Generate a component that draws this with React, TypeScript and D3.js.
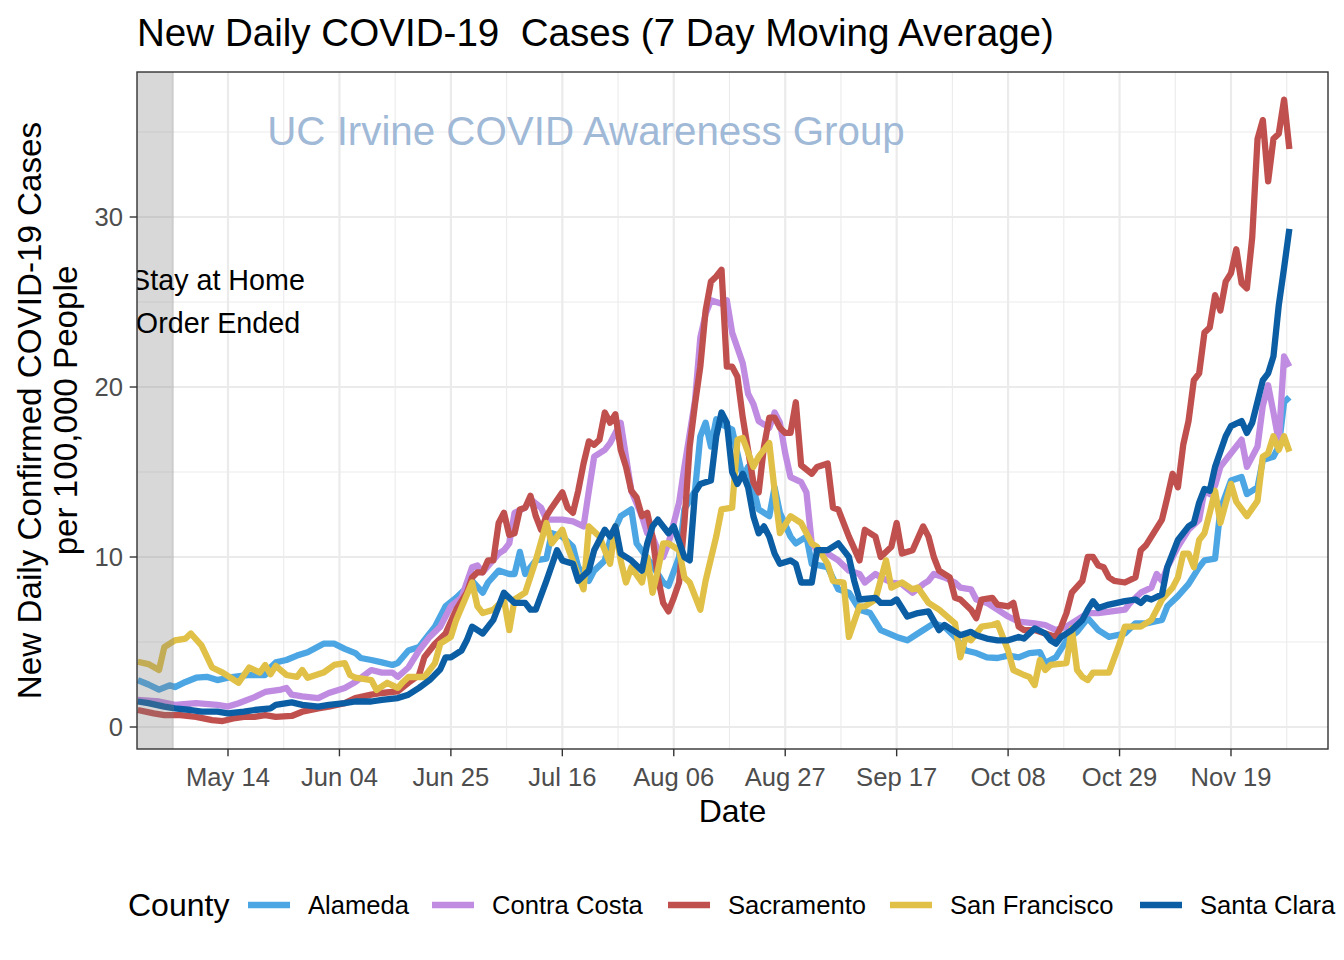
import React from "react";
import * as d3 from "d3";

// ---------- DATA ----------
const START_DATE = Date.UTC(2020, 3, 27); // day 0 = 2020-04-27
const COUNTIES = ["Alameda", "Contra Costa", "Sacramento", "San Francisco", "Santa Clara"];
const COUNTY_COLORS = ["#4ba6e3", "#c08ce2", "#c0504e", "#e0c046", "#0b5ea3"];

// [days since START_DATE, new daily cases per 100k (7-day avg)]
const ALAMEDA: [number, number][] = [[0,2.76],[2,2.5],[4,2.2],[6,2.45],[7,2.35],[9,2.65],[11,2.9],[13,2.95],[15,2.76],[17,2.9],[21,3.06],[24,3.06],[25,3.5],[26,3.8],[28,3.94],[30,4.2],[32,4.4],[35,4.9],[37,4.9],[39,4.6],[41,4.35],[42,4.06],[44,3.94],[46,3.8],[48,3.65],[49,3.76],[51,4.5],[53,4.7],[54,5.1],[56,5.9],[58,7.1],[60,7.6],[62,8.2],[63,8.6],[65,7.9],[66,8.5],[68,9.2],[70,9.0],[71,9.0],[72,10.3],[73,9.0],[75,9.8],[77,9.9],[78,11.4],[80,11.2],[82,10.6],[83,9.4],[85,8.6],[86,9.2],[88,9.8],[89,11.0],[91,12.4],[93,12.8],[94,10.8],[97,9.5],[99,8.5],[100,8.3],[102,10.0],[103,12.8],[105,13.9],[106,17.1],[107,17.9],[108,16.5],[109,18.1],[110,17.8],[112,17.5],[114,14.7],[115,15.3],[117,12.8],[119,12.4],[120,14.1],[121,12.6],[123,11.2],[124,10.8],[126,11.2],[127,9.6],[130,9.4],[132,8.1],[134,7.9],[136,6.9],[138,6.7],[140,5.7],[143,5.3],[145,5.1],[147,5.5],[150,6.1],[152,5.9],[154,5.3],[156,4.5],[158,4.35],[160,4.1],[162,4.06],[164,4.2],[166,4.1],[168,4.35],[170,4.4],[171,3.76],[173,4.1],[175,5.1],[177,5.6],[179,6.4],[181,5.7],[183,5.3],[186,5.5],[188,6.1],[190,6.1],[193,6.3],[194,7.1],[196,7.7],[198,8.4],[200,9.4],[201,9.8],[203,9.9],[204,12.8],[206,14.5],[208,14.7],[209,13.7],[211,14.1],[212,15.7],[214,15.9],[215,16.5],[216,19.1],[217,19.4]];

const CONTRA_COSTA: [number, number][] = [[0,1.6],[4,1.5],[7,1.3],[11,1.4],[15,1.3],[17,1.2],[19,1.4],[22,1.76],[24,2.06],[27,2.2],[28,2.3],[29,1.9],[31,1.8],[34,1.7],[36,2.0],[39,2.3],[41,2.65],[44,3.35],[46,3.2],[48,3.2],[49,2.95],[51,3.5],[53,4.5],[55,5.3],[57,5.9],[59,7.1],[61,7.6],[63,9.4],[64,9.5],[65,9.1],[68,10.2],[69,10.4],[70,10.8],[71,12.6],[73,12.9],[74,13.4],[76,12.9],[77,12.2],[80,12.2],[82,12.1],[84,11.8],[85,13.9],[86,15.9],[88,16.3],[89,16.7],[91,17.9],[92,15.9],[93,13.9],[95,12.4],[96,11.4],[97,11.2],[98,10.4],[99,10.0],[100,10.8],[102,13.2],[103,15.3],[105,19.2],[106,22.9],[107,24.3],[108,25.1],[110,24.9],[111,25.1],[112,23.2],[114,21.4],[115,19.6],[116,19.0],[117,18.0],[119,17.6],[120,18.5],[121,17.9],[122,16.1],[123,14.7],[125,14.4],[126,13.8],[127,10.8],[128,10.4],[130,10.2],[132,9.8],[134,9.2],[136,9.0],[137,8.5],[139,9.0],[140,8.8],[142,8.5],[144,8.4],[146,7.9],[148,8.4],[149,8.6],[150,9.0],[152,8.8],[154,8.5],[155,8.2],[157,8.1],[158,7.5],[160,7.3],[162,6.9],[164,6.5],[166,6.2],[169,6.1],[171,6.0],[173,5.7],[175,5.9],[177,6.3],[179,6.7],[181,6.7],[186,6.9],[187,7.3],[189,7.9],[191,8.2],[192,9.0],[193,8.6],[194,9.4],[196,10.6],[198,11.6],[200,12.2],[201,13.9],[202,13.7],[203,14.2],[204,15.3],[206,16.1],[208,16.9],[209,15.3],[211,16.5],[212,18.9],[213,20.1],[214,18.5],[215,16.8],[216,21.8],[217,21.2]];

const SACRAMENTO: [number, number][] = [[0,1.0],[3,0.8],[5,0.7],[8,0.7],[11,0.6],[14,0.4],[16,0.35],[18,0.5],[20,0.6],[22,0.6],[24,0.7],[26,0.6],[29,0.65],[31,0.9],[34,1.1],[36,1.2],[39,1.4],[41,1.7],[44,1.9],[46,2.0],[49,2.1],[51,2.6],[53,3.06],[54,4.1],[56,4.9],[58,5.5],[60,6.9],[62,7.9],[63,8.8],[64,9.1],[65,9.1],[66,9.8],[67,9.8],[68,12.0],[69,12.6],[70,11.3],[71,11.4],[72,12.8],[73,12.9],[74,13.6],[75,12.4],[76,11.6],[77,12.4],[78,12.9],[80,13.8],[81,12.9],[82,12.6],[83,13.9],[84,15.5],[85,16.8],[86,16.6],[87,16.9],[88,18.5],[89,17.9],[90,18.4],[91,16.3],[92,15.3],[93,13.9],[94,13.5],[95,12.4],[96,12.6],[97,11.2],[98,8.8],[99,7.3],[100,6.8],[101,7.6],[102,8.5],[103,12.0],[104,16.5],[105,19.0],[106,21.2],[107,24.5],[108,26.2],[109,26.5],[110,26.9],[111,21.2],[112,21.2],[113,20.6],[114,18.2],[115,16.3],[116,14.4],[117,13.8],[118,16.5],[119,18.2],[120,18.2],[121,17.6],[122,17.3],[123,17.3],[124,19.1],[125,15.4],[127,14.9],[128,15.3],[130,15.5],[131,12.9],[132,12.8],[134,11.2],[136,9.8],[137,11.6],[139,11.2],[140,10.0],[142,10.6],[143,12.0],[144,10.2],[146,10.4],[148,11.8],[149,11.2],[150,10.0],[151,9.2],[153,8.8],[154,7.6],[155,7.5],[157,6.9],[158,6.4],[159,7.5],[161,7.6],[162,7.2],[164,7.1],[165,7.3],[166,5.9],[167,5.7],[169,5.7],[171,5.5],[173,5.3],[174,5.9],[175,6.7],[176,7.9],[178,8.6],[179,10.0],[180,10.0],[181,9.5],[182,9.4],[183,8.8],[184,8.6],[186,8.5],[188,8.8],[189,10.4],[190,10.7],[191,11.2],[193,12.2],[194,13.5],[195,14.9],[196,14.1],[197,16.6],[198,18.0],[199,20.4],[200,20.8],[201,23.2],[202,23.5],[203,25.4],[204,24.5],[205,26.2],[206,26.7],[207,28.1],[208,26.1],[209,25.8],[210,28.8],[211,34.6],[212,35.7],[213,32.1],[214,34.6],[215,34.9],[216,36.9],[217,34.0]];

const SAN_FRANCISCO: [number, number][] = [[0,3.84],[2,3.7],[4,3.35],[5,4.7],[7,5.1],[9,5.2],[10,5.5],[12,4.8],[14,3.5],[16,3.2],[19,2.6],[21,3.5],[23,3.2],[24,3.65],[25,3.1],[26,3.6],[28,3.06],[30,2.95],[31,3.35],[32,2.9],[35,3.2],[37,3.65],[39,3.76],[40,3.06],[41,2.9],[44,2.76],[45,2.18],[47,2.6],[49,2.3],[50,2.65],[51,2.94],[54,2.94],[56,3.76],[57,4.9],[59,5.3],[60,6.3],[63,8.5],[64,7.1],[65,6.7],[67,6.9],[69,7.5],[70,5.7],[71,7.5],[73,7.9],[75,9.8],[77,12.0],[78,10.8],[80,11.6],[81,10.6],[84,8.1],[85,11.8],[87,11.2],[89,9.6],[90,11.8],[91,9.8],[92,8.5],[93,9.4],[95,8.5],[96,10.0],[97,7.9],[98,9.2],[99,10.8],[100,10.8],[102,10.4],[103,8.8],[104,8.5],[106,6.9],[107,8.6],[109,11.2],[110,12.8],[112,12.9],[113,16.9],[114,17.0],[116,15.3],[117,15.9],[119,16.7],[120,13.9],[121,11.4],[123,12.4],[125,12.0],[127,10.8],[128,10.6],[130,9.6],[131,8.6],[133,8.5],[134,5.3],[136,7.1],[137,7.1],[139,7.5],[141,9.8],[142,8.2],[144,8.5],[146,8.1],[147,8.2],[149,7.3],[151,6.9],[154,6.1],[155,4.1],[156,5.3],[157,5.1],[159,5.9],[161,6.0],[162,6.1],[164,4.5],[165,3.35],[167,3.06],[168,2.95],[169,2.47],[170,3.94],[171,3.35],[172,3.65],[175,3.76],[176,5.8],[177,3.35],[178,2.95],[179,2.76],[180,3.2],[183,3.2],[185,4.9],[186,5.9],[189,5.9],[191,6.3],[193,7.5],[195,8.2],[196,8.8],[197,10.2],[198,10.2],[199,9.4],[200,11.0],[201,11.4],[202,12.6],[203,13.9],[204,12.0],[206,14.3],[207,13.25],[209,12.4],[211,13.3],[212,15.9],[213,16.1],[214,17.1],[215,16.3],[216,17.1],[217,16.2]];

const SANTA_CLARA: [number, number][] = [[0,1.5],[2,1.4],[5,1.2],[7,1.1],[10,1.0],[12,0.9],[15,0.9],[17,0.8],[20,0.9],[22,1.0],[25,1.1],[26,1.3],[29,1.45],[31,1.3],[34,1.2],[36,1.3],[39,1.4],[41,1.5],[44,1.5],[46,1.6],[49,1.7],[51,1.9],[53,2.3],[55,2.76],[57,3.4],[58,4.1],[59,4.1],[61,4.5],[62,5.1],[63,5.9],[65,5.5],[67,6.3],[69,7.9],[71,7.3],[73,7.3],[74,6.9],[75,6.9],[77,8.6],[79,10.4],[80,9.8],[82,9.6],[83,8.6],[85,9.2],[86,10.4],[87,11.0],[88,11.6],[89,11.2],[90,11.8],[91,10.2],[93,9.8],[95,9.2],[96,10.8],[97,11.8],[98,12.2],[100,11.4],[101,11.8],[103,10.0],[104,9.8],[105,13.8],[106,14.3],[108,14.5],[109,17.1],[110,18.5],[111,17.9],[112,15.0],[113,14.3],[114,14.9],[115,14.1],[116,12.4],[117,11.4],[118,11.8],[119,11.2],[120,10.2],[121,9.6],[123,9.8],[124,9.6],[125,8.5],[127,8.5],[128,10.4],[130,10.4],[132,10.8],[134,10.0],[135,8.6],[136,7.5],[139,7.6],[140,7.3],[142,7.3],[143,7.5],[145,6.5],[147,6.7],[149,6.8],[151,5.7],[152,6.0],[154,5.6],[155,5.4],[157,5.6],[158,5.4],[160,5.2],[162,5.1],[164,5.1],[166,5.3],[167,5.2],[168,5.5],[169,5.8],[171,5.5],[172,5.1],[173,4.9],[174,5.3],[176,5.7],[178,6.3],[179,6.9],[180,7.4],[181,7.0],[183,7.2],[186,7.4],[188,7.5],[189,7.3],[190,7.6],[191,7.5],[193,7.8],[194,9.4],[196,11.0],[198,11.8],[199,12.0],[200,13.2],[201,14.0],[202,13.9],[203,15.3],[205,17.1],[206,17.7],[208,18.0],[209,17.3],[210,17.9],[212,20.4],[213,20.8],[214,21.8],[215,24.8],[216,27.0],[217,29.3]];

const SERIES = [ALAMEDA, CONTRA_COSTA, SACRAMENTO, SAN_FRANCISCO, SANTA_CLARA];

const X_TICK_DATES = ["2020-05-14", "2020-06-04", "2020-06-25", "2020-07-16", "2020-08-06", "2020-08-27", "2020-09-17", "2020-10-08", "2020-10-29", "2020-11-19"];
const X_TICK_LABELS = ["May 14", "Jun 04", "Jun 25", "Jul 16", "Aug 06", "Aug 27", "Sep 17", "Oct 08", "Oct 29", "Nov 19"];
const Y_TICKS = [0, 10, 20, 30];
const Y_MINOR = [5, 15, 25, 35];
const STAY_HOME_END_DAY = 6.8; // days after START_DATE

const TITLE = "New Daily COVID-19  Cases (7 Day Moving Average)";
const WATERMARK = "UC Irvine COVID Awareness Group";
const NOTE_LINES = ["Stay at Home", "Order Ended"];

// ---------- LAYOUT ----------
const W = 1344, H = 960;
const PL = 137, PR = 1328, PT = 72, PB = 749;
const FONT = "'Liberation Sans', Arial, Helvetica, sans-serif";
const DAY = 864e5;
const dayToDate = (d: number) => new Date(START_DATE + d * DAY);
const parseUtc = d3.utcParse("%Y-%m-%d");
const LW = 6.3;

export default function App() {
  const x = d3.scaleUtc()
    .domain([dayToDate(-0.147), dayToDate(224.28)])
    .range([PL, PR]);
  const y = d3.scaleLinear().domain([-1.294, 38.53]).range([PB, PT]);

  const majorX = X_TICK_DATES.map((s) => parseUtc(s) as Date);
  const half = (majorX[1].getTime() - majorX[0].getTime()) / 2;
  const minorX: Date[] = [new Date(majorX[0].getTime() - half)];
  majorX.forEach((d) => minorX.push(new Date(d.getTime() + half)));

  const line = d3.line<[number, number]>()
    .x((d) => x(dayToDate(d[0])))
    .y((d) => y(d[1]));

  const legendKeys = [248, 432, 668, 890, 1140];

  return (
    <svg width={W} height={H} style={{ position: "absolute", left: 0, top: 0, background: "#fff" }} fontFamily={FONT}>
      <defs>
        <clipPath id="panel">
          <rect x={PL} y={PT} width={PR - PL} height={PB - PT} />
        </clipPath>
      </defs>
      <rect x={0} y={0} width={W} height={H} fill="#fff" />
      {/* grid */}
      <g clipPath="url(#panel)">
        {Y_MINOR.map((v) => (
          <line key={"ym" + v} x1={PL} x2={PR} y1={y(v)} y2={y(v)} stroke="#ebebeb" strokeWidth={1.1} />
        ))}
        {minorX.map((d, i) => (
          <line key={"xm" + i} x1={x(d)} x2={x(d)} y1={PT} y2={PB} stroke="#ebebeb" strokeWidth={1.1} />
        ))}
        {Y_TICKS.map((v) => (
          <line key={"y" + v} x1={PL} x2={PR} y1={y(v)} y2={y(v)} stroke="#ebebeb" strokeWidth={2.2} />
        ))}
        {majorX.map((d, i) => (
          <line key={"x" + i} x1={x(d)} x2={x(d)} y1={PT} y2={PB} stroke="#ebebeb" strokeWidth={2.2} />
        ))}
        {/* series */}
        {SERIES.map((s, i) => (
          <path key={COUNTIES[i]} d={line(s) || ""} fill="none" stroke={COUNTY_COLORS[i]} strokeWidth={LW} strokeLinejoin="round" />
        ))}
        {/* shaded stay-at-home period */}
        <rect x={PL} y={PT} width={x(dayToDate(STAY_HOME_END_DAY)) - PL} height={PB - PT} fill="#7f7f7f" opacity={0.3} />
        {/* annotation */}
        {NOTE_LINES.map((t, i) => (
          <text key={t} x={218} y={290 + i * 43} fontSize={28.7} textAnchor="middle" fill="#000">{t}</text>
        ))}
      </g>
      <text x={586} y={145} fontSize={40.3} textAnchor="middle" fill="#9fb9d7">{WATERMARK}</text>
      {/* panel border */}
      <rect x={PL} y={PT} width={PR - PL} height={PB - PT} fill="none" stroke="#333333" strokeWidth={1.4} />
      {/* y axis */}
      {Y_TICKS.map((v) => (
        <g key={"yt" + v}>
          <line x1={PL - 7.3} x2={PL} y1={y(v)} y2={y(v)} stroke="#333333" strokeWidth={1.4} />
          <text x={PL - 14} y={y(v) + 9} fontSize={25.6} textAnchor="end" fill="#4d4d4d">{v}</text>
        </g>
      ))}
      {/* x axis */}
      {majorX.map((d, i) => (
        <g key={"xt" + i}>
          <line x1={x(d)} x2={x(d)} y1={PB} y2={PB + 7.3} stroke="#333333" strokeWidth={1.4} />
          <text x={x(d)} y={786} fontSize={25.6} textAnchor="middle" fill="#4d4d4d">{X_TICK_LABELS[i]}</text>
        </g>
      ))}
      {/* axis titles */}
      <text x={(PL + PR) / 2} y={822} fontSize={32} textAnchor="middle" fill="#000">Date</text>
      <g transform={`translate(41, ${(PT + PB) / 2}) rotate(-90)`}>
        <text x={0} y={0} fontSize={33.2} textAnchor="middle" fill="#000">New Daily Confirmed COVID-19 Cases</text>
        <text x={0} y={36} fontSize={33.2} textAnchor="middle" fill="#000">per 100,000 People</text>
      </g>
      {/* title */}
      <text x={PL} y={46} fontSize={38.6} fill="#000" style={{ whiteSpace: "pre" }}>{TITLE}</text>
      {/* legend */}
      <text x={128} y={916} fontSize={32} fill="#000">County</text>
      {COUNTIES.map((c, i) => (
        <g key={"lg" + c}>
          <line x1={legendKeys[i]} x2={legendKeys[i] + 42} y1={905} y2={905} stroke={COUNTY_COLORS[i]} strokeWidth={LW} />
          <text x={legendKeys[i] + 60} y={914} fontSize={25.6} fill="#000">{c}</text>
        </g>
      ))}
    </svg>
  );
}
